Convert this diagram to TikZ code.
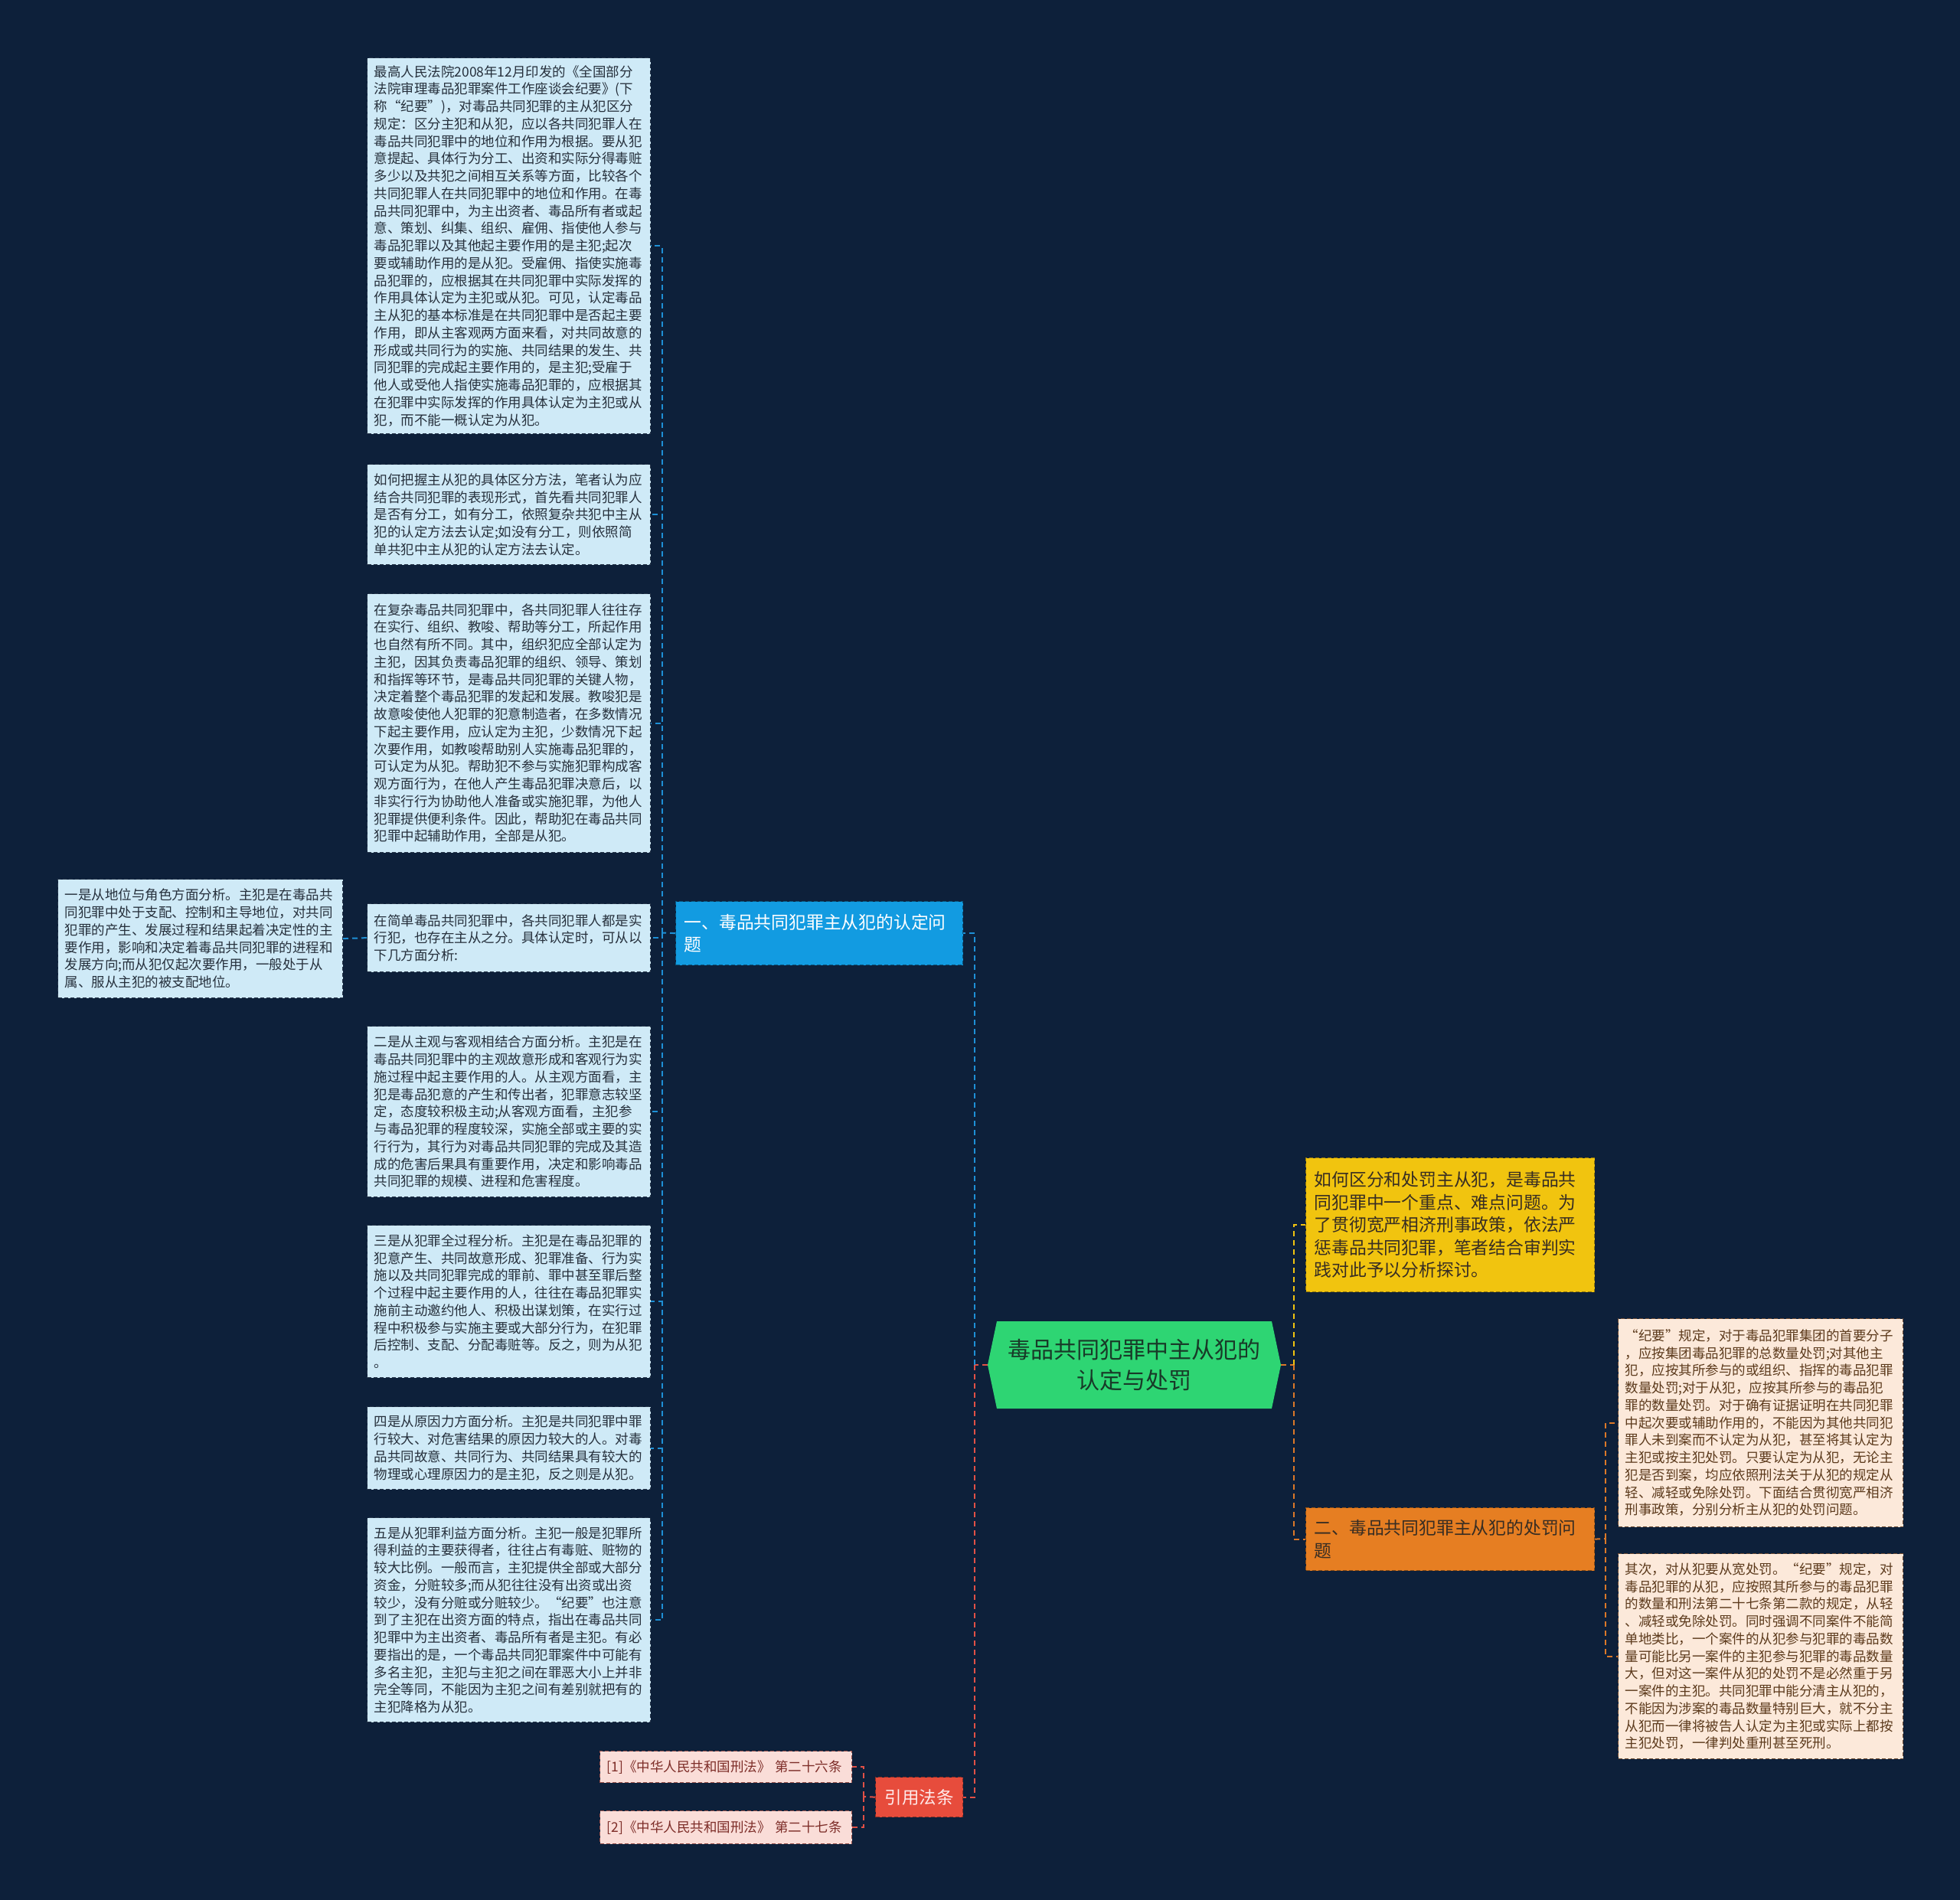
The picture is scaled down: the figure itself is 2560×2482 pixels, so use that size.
\documentclass[tikz,border=0pt]{standalone}
\usepackage{fontspec}
\newfontfamily\cjk{Noto Sans CJK SC}
\definecolor{bg}{RGB}{13,32,58}
\definecolor{lbfill}{RGB}{207,234,247}
\definecolor{lbdraw}{RGB}{40,55,75}
\definecolor{lbtext}{RGB}{38,48,60}
\definecolor{bluen}{RGB}{18,155,225}
\definecolor{bluel}{RGB}{30,144,214}
\definecolor{greenn}{RGB}{46,213,115}
\definecolor{greentext}{RGB}{24,58,40}
\definecolor{yellown}{RGB}{241,196,15}
\definecolor{yellowl}{RGB}{241,196,15}
\definecolor{orangen}{RGB}{230,126,34}
\definecolor{orangel}{RGB}{220,120,40}
\definecolor{darktext}{RGB}{55,45,35}
\definecolor{peachfill}{RGB}{252,233,218}
\definecolor{peachdraw}{RGB}{110,75,50}
\definecolor{peachtext}{RGB}{92,58,28}
\definecolor{redn}{RGB}{231,76,60}
\definecolor{redl}{RGB}{225,80,70}
\definecolor{reffill}{RGB}{250,221,216}
\definecolor{refdraw}{RGB}{150,80,75}
\definecolor{reftext}{RGB}{125,45,40}
\tikzset{
  base/.style={anchor=north west, align=left, inner ysep=0pt,
    dash pattern=on 5pt off 3pt, line width=1.2pt},
  small/.style={font=\cjk\fontsize{17.5pt}{22.75pt}\selectfont},
  big/.style={font=\cjk\fontsize{22.8pt}{29.5pt}\selectfont},
  lbox/.style={base, small, fill=lbfill, draw=lbdraw, text=lbtext, inner xsep=9pt},
  pbox/.style={base, small, fill=peachfill, draw=peachdraw, text=peachtext, inner xsep=9pt},
  rbox/.style={base, small, fill=reffill, draw=refdraw, text=reftext, inner xsep=9pt},
  bluebox/.style={base, big, fill=bluen, draw=bluen!55!black, text=white, inner xsep=11pt},
  yellowbox/.style={base, big, fill=yellown, draw=yellown!60!black, text=darktext, inner xsep=11pt},
  orangebox/.style={base, big, fill=orangen, draw=orangen!60!black, text=darktext, inner xsep=11pt},
  redbox/.style={base, align=center, font=\cjk\fontsize{22.5pt}{28pt}\selectfont, fill=redn, draw=redn!60!black, text=white!92!red, inner xsep=0pt},
  conn/.style={line width=2pt, dash pattern=on 7pt off 5pt},
  bl/.style={conn, draw=bluel},
  rl/.style={conn, draw=redl},
  yl/.style={conn, draw=yellowl},
  ol/.style={conn, draw=orangel},
}
\begin{document}
\begin{tikzpicture}[x=1pt,y=-1pt]
\useasboundingbox (0,0) rectangle (2560,2482);
\fill[bg] (0,0) rectangle (2560,2482);

% root hexagon
\fill[greenn] (1302,1726) -- (1661,1726) -- (1673,1783) -- (1661,1840) -- (1302,1840) -- (1290,1783) -- cycle;
\node[align=center, inner sep=0pt, minimum width=383pt, minimum height=114pt, text=greentext,
  font=\cjk\fontsize{30pt}{40pt}\selectfont] (root) at (1481.5,1783) {毒品共同犯罪中主从犯的\\认定与处罚};

% main branches
\node[bluebox, text width=353pt, minimum height=83pt] (b1) at (882,1177)
 {一、毒品共同犯罪主从犯的认定问\\题};
\node[yellowbox, text width=355pt, minimum height=175pt] (y1) at (1705,1512)
 {如何区分和处罚主从犯，是毒品共\\同犯罪中一个重点、难点问题。为\\了贯彻宽严相济刑事政策，依法严\\惩毒品共同犯罪，笔者结合审判实\\践对此予以分析探讨。};
\node[orangebox, text width=355pt, minimum height=82pt] (o1) at (1705,1969)
 {二、毒品共同犯罪主从犯的处罚问\\题};
\node[redbox, minimum width=114pt, minimum height=52pt] (law) at (1143,2321) {引用法条};

% left children
\node[lbox, text width=352pt, minimum height=491pt] (A) at (479,75)
 {最高人民法院2008年12月印发的《全国部分\\法院审理毒品犯罪案件工作座谈会纪要》(下\\称“纪要”)，对毒品共同犯罪的主从犯区分\\规定：区分主犯和从犯，应以各共同犯罪人在\\毒品共同犯罪中的地位和作用为根据。要从犯\\意提起、具体行为分工、出资和实际分得毒赃\\多少以及共犯之间相互关系等方面，比较各个\\共同犯罪人在共同犯罪中的地位和作用。在毒\\品共同犯罪中，为主出资者、毒品所有者或起\\意、策划、纠集、组织、雇佣、指使他人参与\\毒品犯罪以及其他起主要作用的是主犯;起次\\要或辅助作用的是从犯。受雇佣、指使实施毒\\品犯罪的，应根据其在共同犯罪中实际发挥的\\作用具体认定为主犯或从犯。可见，认定毒品\\主从犯的基本标准是在共同犯罪中是否起主要\\作用，即从主客观两方面来看，对共同故意的\\形成或共同行为的实施、共同结果的发生、共\\同犯罪的完成起主要作用的，是主犯;受雇于\\他人或受他人指使实施毒品犯罪的，应根据其\\在犯罪中实际发挥的作用具体认定为主犯或从\\犯，而不能一概认定为从犯。};
\node[lbox, text width=352pt, minimum height=131pt] (B) at (479,606)
 {如何把握主从犯的具体区分方法，笔者认为应\\结合共同犯罪的表现形式，首先看共同犯罪人\\是否有分工，如有分工，依照复杂共犯中主从\\犯的认定方法去认定;如没有分工，则依照简\\单共犯中主从犯的认定方法去认定。};
\node[lbox, text width=352pt, minimum height=338pt] (C) at (479,775)
 {在复杂毒品共同犯罪中，各共同犯罪人往往存\\在实行、组织、教唆、帮助等分工，所起作用\\也自然有所不同。其中，组织犯应全部认定为\\主犯，因其负责毒品犯罪的组织、领导、策划\\和指挥等环节，是毒品共同犯罪的关键人物，\\决定着整个毒品犯罪的发起和发展。教唆犯是\\故意唆使他人犯罪的犯意制造者，在多数情况\\下起主要作用，应认定为主犯，少数情况下起\\次要作用，如教唆帮助别人实施毒品犯罪的，\\可认定为从犯。帮助犯不参与实施犯罪构成客\\观方面行为，在他人产生毒品犯罪决意后，以\\非实行行为协助他人准备或实施犯罪，为他人\\犯罪提供便利条件。因此，帮助犯在毒品共同\\犯罪中起辅助作用，全部是从犯。};
\node[lbox, text width=352pt, minimum height=89pt] (E) at (479,1180)
 {在简单毒品共同犯罪中，各共同犯罪人都是实\\行犯，也存在主从之分。具体认定时，可从以\\下几方面分析:};
\node[lbox, text width=354pt, minimum height=155pt] (D) at (75,1148)
 {一是从地位与角色方面分析。主犯是在毒品共\\同犯罪中处于支配、控制和主导地位，对共同\\犯罪的产生、发展过程和结果起着决定性的主\\要作用，影响和决定着毒品共同犯罪的进程和\\发展方向;而从犯仅起次要作用，一般处于从\\属、服从主犯的被支配地位。};
\node[lbox, text width=352pt, minimum height=223pt] (F) at (479,1340)
 {二是从主观与客观相结合方面分析。主犯是在\\毒品共同犯罪中的主观故意形成和客观行为实\\施过程中起主要作用的人。从主观方面看，主\\犯是毒品犯意的产生和传出者，犯罪意志较坚\\定，态度较积极主动;从客观方面看，主犯参\\与毒品犯罪的程度较深，实施全部或主要的实\\行行为，其行为对毒品共同犯罪的完成及其造\\成的危害后果具有重要作用，决定和影响毒品\\共同犯罪的规模、进程和危害程度。};
\node[lbox, text width=352pt, minimum height=199pt] (G) at (479,1600)
 {三是从犯罪全过程分析。主犯是在毒品犯罪的\\犯意产生、共同故意形成、犯罪准备、行为实\\施以及共同犯罪完成的罪前、罪中甚至罪后整\\个过程中起主要作用的人，往往在毒品犯罪实\\施前主动邀约他人、积极出谋划策，在实行过\\程中积极参与实施主要或大部分行为，在犯罪\\后控制、支配、分配毒赃等。反之，则为从犯\\。};
\node[lbox, text width=352pt, minimum height=108pt] (H) at (479,1837)
 {四是从原因力方面分析。主犯是共同犯罪中罪\\行较大、对危害结果的原因力较大的人。对毒\\品共同故意、共同行为、共同结果具有较大的\\物理或心理原因力的是主犯，反之则是从犯。};
\node[lbox, text width=352pt, minimum height=267pt] (I) at (479,1982)
 {五是从犯罪利益方面分析。主犯一般是犯罪所\\得利益的主要获得者，往往占有毒赃、赃物的\\较大比例。一般而言，主犯提供全部或大部分\\资金，分赃较多;而从犯往往没有出资或出资\\较少，没有分赃或分赃较少。“纪要”也注意\\到了主犯在出资方面的特点，指出在毒品共同\\犯罪中为主出资者、毒品所有者是主犯。有必\\要指出的是，一个毒品共同犯罪案件中可能有\\多名主犯，主犯与主犯之间在罪恶大小上并非\\完全等同，不能因为主犯之间有差别就把有的\\主犯降格为从犯。};

% right children
\node[pbox, text width=354pt, minimum height=272pt] (P1) at (2113,1722)
 {“纪要”规定，对于毒品犯罪集团的首要分子\\，应按集团毒品犯罪的总数量处罚;对其他主\\犯，应按其所参与的或组织、指挥的毒品犯罪\\数量处罚;对于从犯，应按其所参与的毒品犯\\罪的数量处罚。对于确有证据证明在共同犯罪\\中起次要或辅助作用的，不能因为其他共同犯\\罪人未到案而不认定为从犯，甚至将其认定为\\主犯或按主犯处罚。只要认定为从犯，无论主\\犯是否到案，均应依照刑法关于从犯的规定从\\轻、减轻或免除处罚。下面结合贯彻宽严相济\\刑事政策，分别分析主从犯的处罚问题。};
\node[pbox, text width=354pt, minimum height=268pt] (P2) at (2113,2029)
 {其次，对从犯要从宽处罚。“纪要”规定，对\\毒品犯罪的从犯，应按照其所参与的毒品犯罪\\的数量和刑法第二十七条第二款的规定，从轻\\、减轻或免除处罚。同时强调不同案件不能简\\单地类比，一个案件的从犯参与犯罪的毒品数\\量可能比另一案件的主犯参与犯罪的毒品数量\\大，但对这一案件从犯的处罚不是必然重于另\\一案件的主犯。共同犯罪中能分清主从犯的，\\不能因为涉案的毒品数量特别巨大，就不分主\\从犯而一律将被告人认定为主犯或实际上都按\\主犯处罚，一律判处重刑甚至死刑。};

% references
\node[rbox, text width=311pt, minimum height=41pt] (R1) at (783,2287)
 {[1]《中华人民共和国刑法》 第二十六条};
\node[rbox, text width=311pt, minimum height=43pt] (R2) at (783,2365)
 {[2]《中华人民共和国刑法》 第二十七条};

% junctions
\coordinate (lj) at (1273,1783);
\coordinate (rj) at (1690,1783);
\coordinate (bj) at (865,1218.5);
\coordinate (pj) at (2097,2010);
\coordinate (fj) at (1128,2347);

% connectors
\draw[rl] (root.west) -- (lj);
\draw[bl] (lj) |- (b1.east);
\draw[rl] (lj) |- (law.east);
\draw[ol] (root.east) -- (rj);
\draw[yl] (rj) |- (y1.west);
\draw[ol] (rj) |- (o1.west);

\draw[bl] (b1.west) -- (bj);
\foreach \n in {A,B,C,E,F,G,H,I} { \draw[bl] (bj) |- (\n.east); }
\draw[bl] (E.west) -- (D.east);

\draw[ol] (o1.east) -- (pj);
\draw[ol] (pj) |- (P1.west);
\draw[ol] (pj) |- (P2.west);

\draw[rl] (law.west) -- (fj);
\draw[rl] (fj) |- (R1.east);
\draw[rl] (fj) |- (R2.east);
\end{tikzpicture}
\end{document}
